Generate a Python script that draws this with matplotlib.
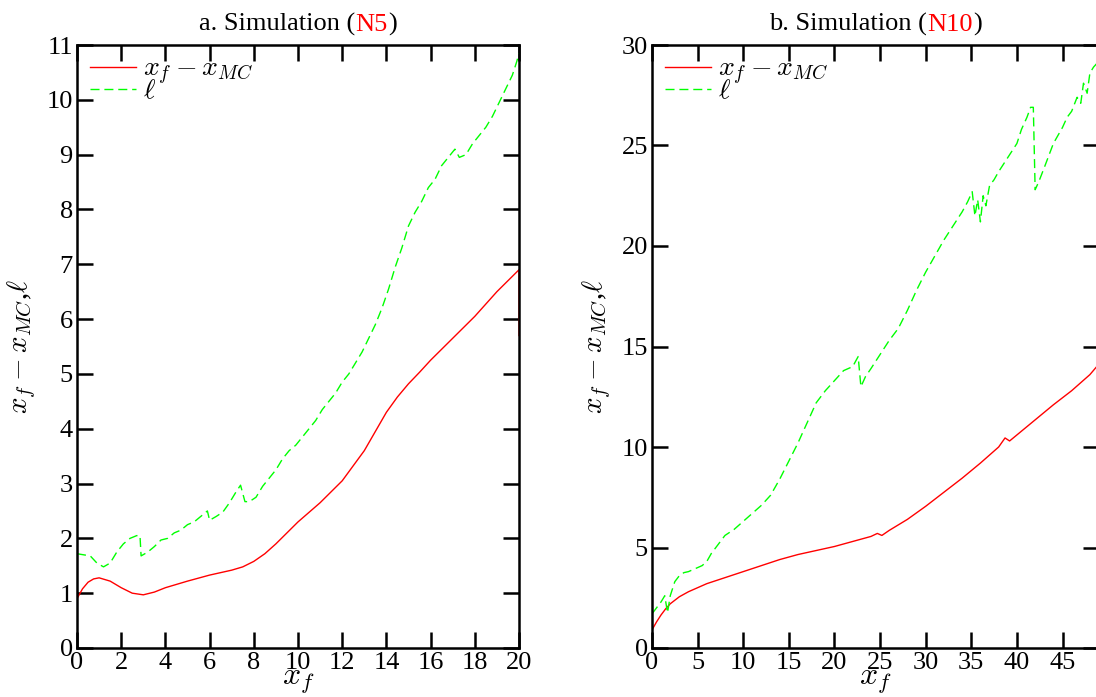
import matplotlib
matplotlib.use("Agg")
import matplotlib.pyplot as plt
from matplotlib.offsetbox import TextArea, HPacker, AnchoredOffsetbox

plt.rcParams['font.family'] = ['Liberation Serif', 'DejaVu Serif']
plt.rcParams['mathtext.fontset'] = 'cm'

# ---- data: panel a (N5) ----
a_x_diff = [0, 0.25, 0.5, 0.75, 1.0, 1.5, 2.0, 2.5, 3.0, 3.5, 4, 5, 6, 7, 7.5, 8, 8.5, 9, 9.5, 10,
            11, 12, 13, 13.5, 14, 14.5, 15, 15.5, 16, 17, 18, 19, 20, 20]
a_y_diff = [0.9, 1.08, 1.2, 1.26, 1.28, 1.22, 1.1, 1.0, 0.97, 1.02, 1.1, 1.22, 1.33, 1.42, 1.48, 1.58,
            1.72, 1.9, 2.1, 2.3, 2.65, 3.05, 3.6, 3.95, 4.3, 4.58, 4.82, 5.03, 5.25, 5.65, 6.05,
            6.5, 6.9, 5.7]

a_x_ell = [0, 0.3, 0.6, 0.9, 1.2, 1.5, 1.8, 2.1, 2.4, 2.7, 2.85, 2.9, 3.2, 3.5, 3.8, 4.1, 4.4, 4.7,
           5.0, 5.3, 5.6, 5.9, 6.0, 6.3, 6.6, 6.9, 7.2, 7.4, 7.6, 7.8, 8.1, 8.4, 8.7, 9.0, 9.3, 9.6,
           9.9, 10.2, 10.5, 10.8, 11.1, 11.4, 11.7, 12.0, 12.3, 12.6, 12.9, 13.2, 13.5, 13.8, 14.1,
           14.4, 14.7, 15.0, 15.3, 15.6, 15.9, 16.2, 16.5, 16.8, 17.1, 17.3, 17.6, 17.9, 18.2, 18.5,
           18.8, 19.1, 19.4, 19.7, 19.9, 20]
a_y_ell = [1.72, 1.70, 1.68, 1.55, 1.48, 1.55, 1.75, 1.9, 2.0, 2.05, 2.05, 1.68, 1.75, 1.85, 1.97,
           2.0, 2.1, 2.15, 2.25, 2.3, 2.4, 2.5, 2.33, 2.4, 2.48, 2.65, 2.85, 2.97, 2.67, 2.67, 2.75,
           2.95, 3.1, 3.25, 3.45, 3.6, 3.7, 3.85, 4.0, 4.15, 4.35, 4.5, 4.65, 4.85, 5.0, 5.2, 5.4,
           5.65, 5.9, 6.2, 6.55, 6.95, 7.3, 7.7, 7.95, 8.15, 8.4, 8.55, 8.8, 8.95, 9.1, 8.95, 9.0,
           9.2, 9.35, 9.5, 9.7, 9.95, 10.2, 10.45, 10.7, 10.85]

# ---- data: panel b (N10) ----
b_x_diff = [0, 0.5, 1, 1.5, 2, 3, 4, 5, 6, 7, 8, 10, 12, 14, 16, 18, 20, 22, 24, 24.7, 25.2, 26,
            28, 30, 32, 34, 36, 38, 38.7, 39.2, 40, 42, 44, 46, 48, 49.5]
b_y_diff = [0.9, 1.3, 1.65, 1.95, 2.2, 2.55, 2.8, 3.0, 3.2, 3.35, 3.5, 3.8, 4.1, 4.4, 4.65, 4.85,
            5.05, 5.3, 5.55, 5.7, 5.6, 5.85, 6.4, 7.05, 7.75, 8.45, 9.2, 10.0, 10.45, 10.3, 10.6,
            11.35, 12.1, 12.8, 13.6, 14.4]

b_x_ell = [0, 0.5, 1.0, 1.4, 1.7, 2.0, 2.5, 3.0, 3.5, 4.0, 4.5, 5.0, 5.5, 6.0, 6.5, 7.0, 7.5, 8.0,
           9.0, 10.0, 11.0, 12.0, 13.0, 14.0, 15.0, 16.0, 17.0, 18.0, 19.0, 20.0, 21.0, 22.0, 22.6,
           22.9, 23.4, 24.0, 25.0, 26.0, 27.0, 28.0, 29.0, 30.0, 31.0, 32.0, 33.0, 34.0, 34.6, 35.1,
           35.4, 35.7, 36.0, 36.3, 36.6, 37.0, 37.5, 38.0, 39.0, 40.0, 40.5, 41.1, 41.5, 41.8, 42.0,
           42.4, 43.0, 44.0, 45.0, 45.5, 46.0, 46.6, 47.0, 47.3, 47.7, 48.0, 48.4, 48.8, 49.2]
b_y_ell = [1.7, 2.0, 2.3, 2.6, 1.75, 2.6, 3.3, 3.6, 3.75, 3.8, 3.9, 4.0, 4.1, 4.3, 4.7, 5.0, 5.3,
           5.6, 5.9, 6.3, 6.7, 7.1, 7.6, 8.4, 9.3, 10.2, 11.2, 12.2, 12.8, 13.3, 13.8, 14.0, 14.5,
           13.0, 13.5, 13.9, 14.6, 15.3, 15.9, 16.8, 17.8, 18.7, 19.5, 20.3, 21.0, 21.7, 22.2, 22.7,
           21.5, 22.3, 21.2, 22.5, 22.0, 23.0, 23.3, 23.7, 24.4, 25.1, 25.8, 26.4, 26.9, 26.9, 22.8,
           23.2, 23.9, 25.1, 25.9, 26.4, 26.7, 27.4, 27.1, 28.1, 27.6, 28.6, 28.9, 29.1, 29.5]

a_xticks = list(range(0, 21, 2))
a_yticks = list(range(0, 12))
b_xticks = list(range(0, 50, 5))
b_yticks = list(range(0, 31, 5))

W, H = 1096, 697
fig = plt.figure(figsize=(W / 100, H / 100), dpi=100)

bottom = 1 - 648 / H
height = (648 - 45) / H
ax1 = fig.add_axes([77 / W, bottom, (519 - 77) / W, height])
ax2 = fig.add_axes([652 / W, bottom, (1099 - 652) / W, height])

RED = '#ff0000'
GREEN = '#00ff00'
FS = 19


def style(ax, xlim, ylim, xt, yt):
    ax.set_xlim(*xlim)
    ax.set_ylim(*ylim)
    ax.set_xticks(xt)
    ax.set_yticks(yt)
    for s in ax.spines.values():
        s.set_linewidth(1.8)
    ax.tick_params(direction='in', length=11.5, width=1.8, top=True, right=True,
                   labelsize=FS, pad=3)
    ax.set_xlabel(r'$x_f$', fontsize=23, labelpad=-5)
    ax.set_ylabel(r'$x_f - x_{MC}$,$\ell$', fontsize=21, labelpad=6)


def draw(ax, xd, yd, xe, ye):
    ax.plot(xd, yd, color=RED, lw=1.0, label=r'$x_f - x_{MC}$')
    ax.plot(xe, ye, color=GREEN, lw=1.0, dashes=(6.5, 3.5), label=r'$\ell$')
    ax.legend(loc='upper left', frameon=False, fontsize=20, handlelength=1.65,
              handletextpad=0.25, labelspacing=-0.3, borderaxespad=0.0,
              borderpad=0.0, bbox_to_anchor=(0.03, 0.98))


def title(ax, prefix, tag):
    parts = [TextArea(prefix, textprops=dict(fontsize=FS, color='black')),
             TextArea(tag, textprops=dict(fontsize=FS, color=RED)),
             TextArea(')', textprops=dict(fontsize=FS, color='black'))]
    box = HPacker(children=parts, align='baseline', pad=0, sep=0)
    anch = AnchoredOffsetbox(loc='lower center', child=box, pad=0, frameon=False,
                             bbox_to_anchor=(0.5, 1.015), bbox_transform=ax.transAxes,
                             borderpad=0)
    ax.add_artist(anch)


style(ax1, (0, 20), (0, 11), a_xticks, a_yticks)
draw(ax1, a_x_diff, a_y_diff, a_x_ell, a_y_ell)
title(ax1, 'a. Simulation (', 'N5')

style(ax2, (0, 49), (0, 30), b_xticks, b_yticks)
draw(ax2, b_x_diff, b_y_diff, b_x_ell, b_y_ell)
title(ax2, 'b. Simulation (', 'N10')

fig.savefig('out.png', dpi=100)
